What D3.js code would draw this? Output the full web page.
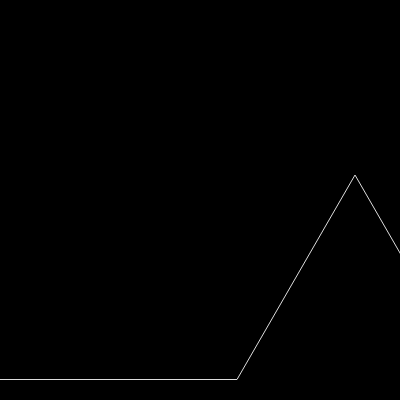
<!DOCTYPE html>
<html><head><meta charset="utf-8">
<script src="https://cdn.jsdelivr.net/npm/d3@7"></script>
<style>html,body{margin:0;padding:0;background:#000;overflow:hidden}</style>
</head><body>
<script>
const steps = [0, 1, 2, 3, 4];
const values = [0, 0, 0, 1, 0];
const W = 400, H = 400;
const svg = d3.select("body").append("svg").attr("width", W).attr("height", H)
  .style("display","block").style("background","#000");
const x = d3.scaleLinear().domain([0, 4]).range([1, 473]);
const y = d3.scaleLinear().domain([0, 1]).range([379.5, 175]);
const line = d3.line().x((d,i)=>x(steps[i])).y(d=>y(d));
svg.append("path").datum(values).attr("d", line)
  .attr("fill","none").attr("stroke","#ddd").attr("stroke-width",1);
svg.append("line").attr("x1",0).attr("x2",x(0)).attr("y1",y(0)).attr("y2",y(0))
  .attr("stroke","#ddd").attr("stroke-width",1);
</script>
</body></html>
